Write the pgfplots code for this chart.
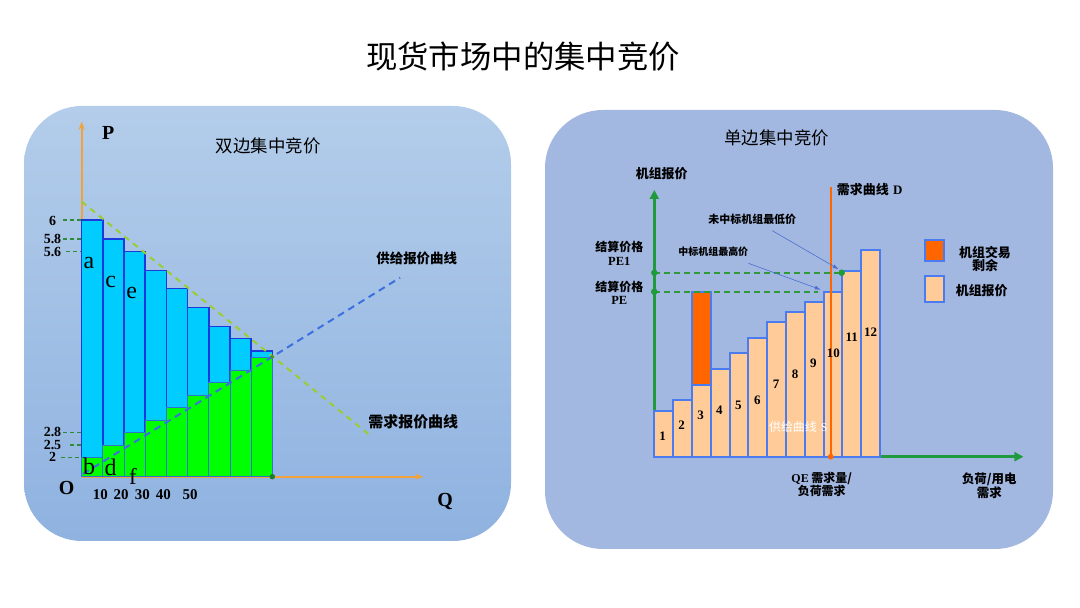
\documentclass[border=0pt]{standalone}
\usepackage{fontspec}
\setmainfont{Liberation Serif}
\newfontfamily\cjk{Noto Sans CJK SC}
\usepackage{pgfplots}
\pgfplotsset{compat=1.18}
\usetikzlibrary{arrows.meta}
\definecolor{bgtop}{HTML}{B3CDEA}
\definecolor{bgbot}{HTML}{8FB2E0}
\definecolor{bgright}{HTML}{A3B8E0}
\definecolor{cyanbar}{HTML}{00CCFF}
\definecolor{greenbar}{HTML}{00FF00}
\definecolor{lborder}{HTML}{1A3ADC}
\definecolor{gborder}{HTML}{2F74D0}
\definecolor{peach}{HTML}{FFCC99}
\definecolor{rborder}{HTML}{4A7CF0}
\definecolor{orng}{HTML}{FF6600}
\definecolor{laxis}{HTML}{F2A23C}
\definecolor{gaxis}{HTML}{1F9A3C}
\definecolor{gdash}{HTML}{2E9A3A}
\definecolor{gguide}{HTML}{2E8B3A}
\definecolor{ddash}{HTML}{9ACD32}
\definecolor{sblue}{HTML}{3D6FE0}
\definecolor{ablue}{HTML}{4A6FD0}
\definecolor{dgreen}{HTML}{1E7A2E}
\newcommand\fs[1]{\fontsize{#1}{#1}\selectfont}
\begin{document}
\begin{tikzpicture}
% backgrounds
\begin{scope}[shift={(0,608bp)},x=1bp,y=-1bp]
\fill[white] (0,0) rectangle (1080,608);
\shade[top color=bgtop,bottom color=bgbot,rounded corners=58bp] (24,106) rectangle (511,541);
\fill[bgright,rounded corners=58bp] (545,110) rectangle (1053,549);
\end{scope}

% ---------- left chart ----------
\begin{axis}[at={(81.7bp,131.3bp)},anchor=origin,scale only axis,
  width=341.4bp,height=355bp,xmin=0,xmax=161.2,ymin=0,ymax=355,
  enlargelimits=false,clip=false,axis lines=left,
  axis line style={draw=laxis,line width=2bp,-{Stealth[length=8bp,width=6bp]}},
  xtick=\empty,ytick=\empty]
\addplot[draw=gguide,line width=1.2bp,dash pattern=on 4bp off 3bp] coordinates {(-8.8,256.7)(0,256.7)};
\addplot[draw=gguide,line width=1.2bp,dash pattern=on 4bp off 3bp] coordinates {(-8.8,237.7)(10,237.7)};
\addplot[draw=gguide,line width=1.2bp,dash pattern=on 4bp off 3bp] coordinates {(-7.5,225)(20,225)};
\addplot[draw=gguide,line width=1.2bp,dash pattern=on 4bp off 3bp] coordinates {(-8.8,44.3)(20,44.3)};
\addplot[draw=gguide,line width=1.2bp,dash pattern=on 4bp off 3bp] coordinates {(-5.5,31.7)(10,31.7)};
\addplot[draw=gguide,line width=1.2bp,dash pattern=on 4bp off 3bp] coordinates {(-10,19.3)(0,19.3)};
\addplot[ybar interval,fill=cyanbar,draw=lborder,line width=1.5bp] coordinates {(0,256.7)(10,237.7)(20,225)(30,206.3)(40,188)(50,169.3)(60,150.3)(70,138)(80,125.7)(90,0)};
\addplot[ybar interval,fill=greenbar,draw=gborder,line width=0.8bp] coordinates {(0,19.3)(10,31.7)(20,44.3)(30,56.7)(40,69.3)(50,81.7)(60,94)(70,106.7)(80,119.3)(90,0)};
\addplot[draw=ddash,line width=2bp,dash pattern=on 6bp off 5bp] coordinates {(0,275)(136.9,40)};
\addplot[draw=sblue,line width=2bp,dash pattern=on 7bp off 5bp] coordinates {(0.6,2.7)(150.3,199)};
\addplot[only marks,mark=*,mark size=2.5bp,color=dgreen] coordinates {(90,0)};
\addplot[only marks,mark=*,mark size=1.8bp,color=dgreen!70!ddash] coordinates {(90,120)};
\end{axis}

% ---------- right chart ----------
\begin{axis}[at={(654.3bp,151.3bp)},anchor=origin,scale only axis,
  width=369.1bp,height=266.7bp,xmin=0,xmax=19.62,ymin=0,ymax=266.7,
  enlargelimits=false,clip=false,axis lines=left,
  axis line style={draw=gaxis,line width=2.5bp,-{Triangle[length=9bp,width=9bp]}},
  xtick=\empty,ytick=\empty]
\addplot[ybar interval,fill=peach,draw=rborder,line width=2bp] coordinates {(0,46)(1,56.7)(2,71.7)(3,87.3)(4,103.3)(5,118.3)(6,134.3)(7,144.7)(8,155)(9,165)(10,185.7)(11,206.7)(12,0)};
\addplot[fill=orng,draw=rborder,line width=2bp] coordinates {(2,71.7)(2,165)(3,165)(3,71.7)} --cycle;
\addplot[draw=gdash,line width=2.2bp,dash pattern=on 6bp off 4bp] coordinates {(0,184)(9.96,184)};
\addplot[draw=gdash,line width=2.2bp,dash pattern=on 6bp off 4bp] coordinates {(0,165)(8.7,165)};
\addplot[draw=orng,line width=2bp] coordinates {(9.38,0)(9.38,269.4)};
\addplot[only marks,mark=*,mark size=2.6bp,color=orng] coordinates {(9.38,0)};
\addplot[only marks,mark=*,mark size=3bp,color=gaxis] coordinates {(0,184)(0,165)(9.96,184)};
\draw[ablue,line width=0.6bp,-{Latex[length=6bp,width=4bp]}] (axis cs:6.27,226) -- (axis cs:9.8,187.5);
\draw[ablue,line width=0.6bp,-{Latex[length=6bp,width=4bp]}] (axis cs:5.0,193.4) -- (axis cs:8.85,167);
\end{axis}

% ---------- texts ----------
\begin{scope}[shift={(0,608bp)},x=1bp,y=-1bp]
\node[font=\cjk\fs{31.5}] at (523,57) {现货市场中的集中竞价};
% left
\node[font=\cjk\fs{17.5}] at (268.3,146) {双边集中竞价};
\node[font=\cjk\bfseries\fs{13.5}] at (416.7,258.3) {供给报价曲线};
\node[font=\cjk\bfseries\fs{15}] at (413.3,421.7) {需求报价曲线};
\node[font=\bfseries\fs{20}] at (108.3,132.7) {P};
\node[font=\bfseries\fs{20}] at (66.7,488.3) {O};
\node[font=\bfseries\fs{20}] at (445,501.7) {Q};
\foreach \x/\t in {100.3/10,121/20,142.3/30,163.3/40,190/50}
  \node[font=\bfseries\fs{15},inner sep=0pt] at (\x,495) {\t};
\foreach \y/\t in {220.7/6,239/5.8,251.7/5.6,432.3/2.8,445/2.5,457.3/2}
  \node[font=\bfseries\fs{14},inner sep=0pt] at (52.5,\y) {\t};
\node[font=\fs{24},inner sep=0pt] at (89,262.7) {a};
\node[font=\fs{24},inner sep=0pt] at (110.7,281.7) {c};
\node[font=\fs{24},inner sep=0pt] at (131.7,293.3) {e};
\node[font=\fs{24},inner sep=0pt] at (89,466.5) {b};
\node[font=\fs{24},inner sep=0pt] at (110.7,467.5) {d};
\node[font=\fs{23},inner sep=0pt] at (133,476.5) {f};
% right
\node[font=\cjk\fs{17.5}] at (776.7,138.3) {单边集中竞价};
\node[font=\cjk\bfseries\fs{13}] at (661.7,173.3) {机组报价};
\node[font=\cjk\bfseries\fs{12}] at (619.3,246.7) {结算价格};
\node[font=\bfseries\fs{12.5}] at (619.3,261.7) {PE1};
\node[font=\cjk\bfseries\fs{12}] at (619.3,286.7) {结算价格};
\node[font=\bfseries\fs{12.5}] at (619.3,300) {PE};
\node[font=\cjk\bfseries\fs{13},anchor=west,inner sep=0pt] at (836.7,190) {需求曲线\,\,\normalfont\bfseries D};
\node[font=\cjk\bfseries\fs{11}] at (752.3,219) {未中标机组最低价};
\node[font=\cjk\bfseries\fs{10}] at (713.3,251.7) {中标机组最高价};
\foreach \x/\y/\t in {662.7/436/1,681.7/425/2,700.7/415/3,719.3/410.7/4,738.3/405/5,757.3/400/6,776/384.3/7,795/374/8,813.3/363.3/9,833.3/353.3/10,851.7/337.7/11,870.7/332.7/12}
  \node[font=\bfseries\fs{13}] at (\x,\y) {\t};
\node[font=\cjk\fs{12},text=white] at (798.3,426.7) {供给曲线\,\,\normalfont S};
\node[font=\cjk\bfseries\fs{12},align=center,inner sep=0pt] at (821.7,484.5) {{\normalfont\bfseries QE} 需求量/\\负荷需求};
\node[font=\cjk\bfseries\fs{12.5},align=center,inner sep=0pt] at (989.3,485.3) {负荷/用电\\需求};
\fill[orng,draw=rborder,line width=2bp] (925,240) rectangle (944.3,260.7);
\fill[peach,draw=rborder,line width=2bp] (925,276) rectangle (944.3,301.7);
\node[font=\cjk\bfseries\fs{13},align=center,inner sep=0pt] at (985,259) {机组交易\\剩余};
\node[font=\cjk\bfseries\fs{13}] at (981.7,290.7) {机组报价};
\end{scope}
\end{tikzpicture}
\end{document}
